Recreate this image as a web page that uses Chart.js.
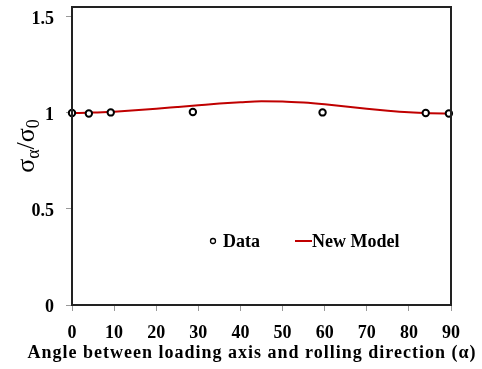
<!DOCTYPE html>
<html>
<head>
<meta charset="utf-8">
<script src="https://cdn.jsdelivr.net/npm/chart.js@4"></script>
<style>
    body { margin: 0; background: #fff; }
    #wrap { width: 482px; height: 369px; }
</style>
</head>
<body>
<div id="wrap"><canvas id="chart"></canvas></div>
<script>
// measured points
const dataAngles = [0, 4, 9.2, 28.7, 59.5, 84, 89.5];
const dataRatios = [1.000, 0.997, 1.003, 1.005, 1.003, 1.000, 0.997];

// model curve every 5 degrees
const modelAngles = [0, 5, 10, 15, 20, 25, 30, 35, 40, 45, 50, 55, 60, 65, 70, 75, 80, 85, 90];
const modelRatios = [1.000, 1.002, 1.007, 1.014, 1.022, 1.031, 1.040, 1.049, 1.056, 1.061,
                     1.060, 1.054, 1.045, 1.034, 1.022, 1.012, 1.004, 0.999, 0.996];

const yTicks = [0, 0.5, 1, 1.5];
const seriesLabels = ['Data', 'New Model'];
const xTitle = 'Angle between loading axis and rolling direction (α)';

const FONT = "'Liberation Serif', 'Times New Roman', serif";
const RED = '#c00000';

const framePlugin = {
    id: 'frame',
    afterDatasetsDraw(chart) {
        const {ctx, chartArea: a} = chart;
        ctx.save();
        ctx.strokeStyle = '#222';
        ctx.lineWidth = 2;
        ctx.strokeRect(a.left, a.top, a.right - a.left, a.bottom - a.top);
        ctx.restore();
    },
    afterDraw(chart) {
        const ctx = chart.ctx;

        // x title, a bit spread out like the original
        ctx.save();
        ctx.font = 'bold 18px ' + FONT;
        ctx.letterSpacing = '1px';
        ctx.fillStyle = '#000';
        ctx.textAlign = 'center';
        ctx.textBaseline = 'middle';
        ctx.fillText(xTitle, 252, 353);
        ctx.restore();

        // y title: sigma_alpha / sigma_0
        ctx.save();
        ctx.translate(27, 146);
        ctx.rotate(-Math.PI / 2);
        ctx.fillStyle = '#000';
        ctx.textBaseline = 'alphabetic';
        const parts = [
            ['σ', 26, 0], ['α', 18, 5], ['/', 26, 0], ['σ', 26, 0], ['0', 18, 5]
        ];
        let w = 0;
        parts.forEach(p => { ctx.font = p[1] + 'px ' + FONT; w += ctx.measureText(p[0]).width; });
        let x = -w / 2;
        parts.forEach(p => {
            ctx.font = p[1] + 'px ' + FONT;
            ctx.fillText(p[0], x, 7 + p[2]);
            x += ctx.measureText(p[0]).width;
        });
        ctx.restore();

        // legend
        ctx.save();
        ctx.font = 'bold 18px ' + FONT;
        ctx.textBaseline = 'middle';
        ctx.beginPath();
        ctx.arc(213, 241, 2.5, 0, Math.PI * 2);
        ctx.fillStyle = '#fff';
        ctx.fill();
        ctx.strokeStyle = '#000';
        ctx.lineWidth = 1.3;
        ctx.stroke();
        ctx.fillStyle = '#000';
        ctx.fillText(chart.data.datasets[0].label, 223, 242);
        ctx.strokeStyle = RED;
        ctx.lineWidth = 2;
        ctx.beginPath();
        ctx.moveTo(295, 241);
        ctx.lineTo(312, 241);
        ctx.stroke();
        ctx.fillText(chart.data.datasets[1].label, 312, 242);
        ctx.restore();
    }
};

new Chart(document.getElementById('chart'), {
    type: 'scatter',
    data: {
        datasets: [
            {
                label: seriesLabels[0],
                data: dataAngles.map((a, i) => ({x: a, y: dataRatios[i]})),
                pointStyle: 'circle',
                pointRadius: 3.2,
                pointBorderWidth: 2,
                pointBorderColor: '#000',
                pointBackgroundColor: '#fff',
                showLine: false,
                clip: false
            },
            {
                label: seriesLabels[1],
                type: 'line',
                data: modelAngles.map((a, i) => ({x: a, y: modelRatios[i]})),
                borderColor: RED,
                borderWidth: 2,
                pointRadius: 0,
                tension: 0.4,
                cubicInterpolationMode: 'monotone',
                fill: false
            }
        ]
    },
    plugins: [framePlugin],
    options: {
        responsive: true,
        maintainAspectRatio: false,
        animation: false,
        layout: {padding: {top: 7, right: 31, left: 0, bottom: 0}},
        plugins: {
            legend: {display: false},
            tooltip: {enabled: false}
        },
        scales: {
            x: {
                type: 'linear',
                min: 0,
                max: 90,
                grid: {display: true, drawOnChartArea: false, color: '#999', tickLength: 6},
                border: {display: false},
                ticks: {
                    stepSize: 10,
                    color: '#000',
                    padding: 12,
                    maxRotation: 0,
                    font: {family: FONT, size: 18, weight: 'bold'}
                },
                afterFit(axis) {
                    axis.height = 64;
                    axis.paddingLeft = 0;
                    axis.paddingRight = 0;
                }
            },
            y: {
                min: 0,
                max: 1.552,
                grid: {display: true, drawOnChartArea: false, color: '#999', tickLength: 6},
                border: {display: false},
                afterBuildTicks(axis) { axis.ticks = yTicks.map(v => ({value: v})); },
                ticks: {
                    color: '#000',
                    padding: 12,
                    labelOffset: 2,
                    font: {family: FONT, size: 18, weight: 'bold'},
                    callback: v => String(v)
                },
                afterFit(axis) {
                    axis.width = 72;
                    axis.paddingTop = 0;
                    axis.paddingBottom = 0;
                }
            }
        }
    }
});
</script>
</body>
</html>
